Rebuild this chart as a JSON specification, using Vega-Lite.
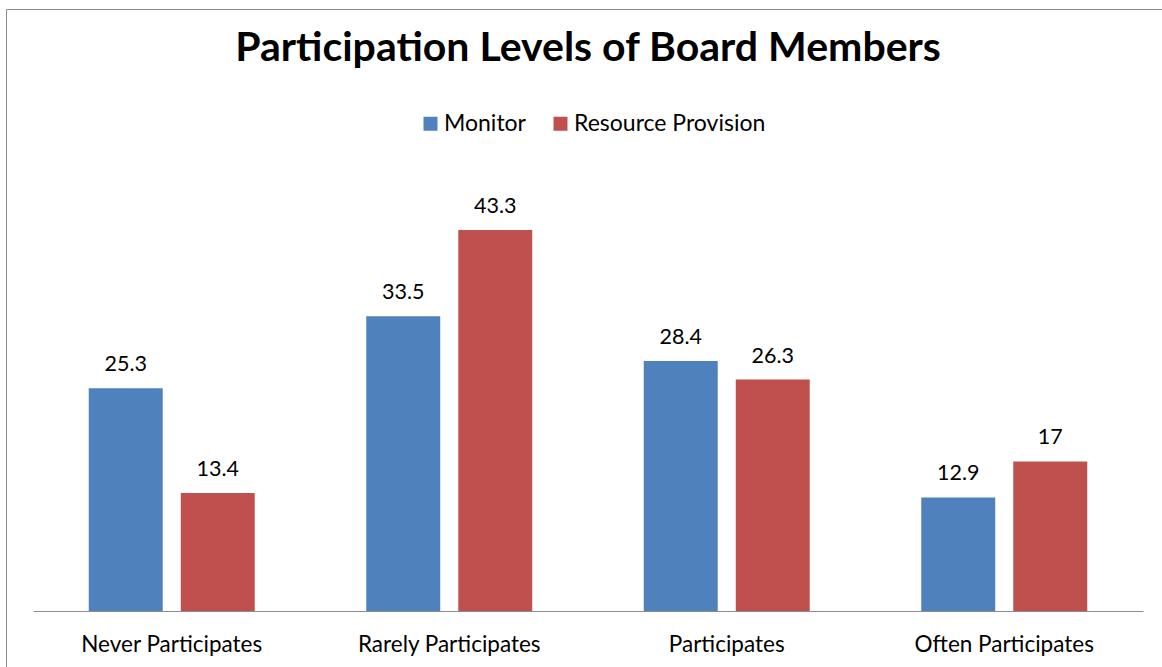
{
  "$schema": "https://vega.github.io/schema/vega-lite/v6.json",
  "width": 1170,
  "height": 680,
  "autosize": {"type": "none"},
  "padding": {"left": 6, "top": 9, "right": 0, "bottom": 0},
  "background": "white",
  "config": {
    "view": {"stroke": "#8c8c8c", "strokeWidth": 1},
    "font": "Lato"
  },
  "title": {
    "text": "Participation Levels of Board Members",
    "font": "Lato",
    "fontSize": 41,
    "fontWeight": "bold",
    "color": "black",
    "anchor": "middle",
    "baseline": "alphabetic",
    "offset": -93,
    "dx": -3
  },
  "data": {
    "values": [
      {"level": "Never Participates", "series": "Monitor", "value": 25.3},
      {"level": "Never Participates", "series": "Resource Provision", "value": 13.4},
      {"level": "Rarely Participates", "series": "Monitor", "value": 33.5},
      {"level": "Rarely Participates", "series": "Resource Provision", "value": 43.3},
      {"level": "Participates", "series": "Monitor", "value": 28.4},
      {"level": "Participates", "series": "Resource Provision", "value": 26.3},
      {"level": "Often Participates", "series": "Monitor", "value": 12.9},
      {"level": "Often Participates", "series": "Resource Provision", "value": 17}
    ]
  },
  "encoding": {
    "x": {
      "field": "level",
      "type": "nominal",
      "sort": null,
      "scale": {"range": [27, 1137], "paddingInner": 0, "paddingOuter": 0},
      "axis": {
        "title": null,
        "orient": "bottom",
        "offset": -78,
        "domain": true,
        "domainColor": "#8c8c8c",
        "domainWidth": 1,
        "ticks": false,
        "grid": false,
        "labelAngle": 0,
        "labelFont": "Lato",
        "labelFontSize": 22.5,
        "labelColor": "black",
        "labelBaseline": "alphabetic",
        "labelPadding": 40,
        "labelLimit": 400
      }
    },
    "xOffset": {
      "field": "series",
      "type": "nominal",
      "scale": {"paddingInner": 0.196, "paddingOuter": 0.606}
    },
    "y": {
      "field": "value",
      "type": "quantitative",
      "stack": null,
      "scale": {"domain": [-8.864, 68.41], "nice": false, "zero": false},
      "axis": null
    }
  },
  "layer": [
    {
      "mark": {"type": "bar"},
      "encoding": {
        "y2": {"datum": 0},
        "color": {
          "field": "series",
          "type": "nominal",
          "scale": {"domain": ["Monitor", "Resource Provision"], "range": ["#4F81BD", "#C0504D"]},
          "legend": {
            "title": null,
            "orient": "none",
            "legendX": 413,
            "legendY": 103,
            "direction": "horizontal",
            "symbolType": "square",
            "symbolSize": 196,
            "symbolStrokeWidth": 0,
            "labelFont": "Lato",
            "labelFontSize": 23,
            "labelColor": "black",
            "labelOffset": 2,
            "labelLimit": 400,
            "columnPadding": 23,
            "padding": 0
          }
        }
      }
    },
    {
      "mark": {"type": "text", "dy": -17, "baseline": "alphabetic", "fontSize": 21.5, "font": "Lato", "color": "black"},
      "encoding": {
        "text": {"field": "value", "type": "quantitative", "format": ".4~g"}
      }
    }
  ]
}
